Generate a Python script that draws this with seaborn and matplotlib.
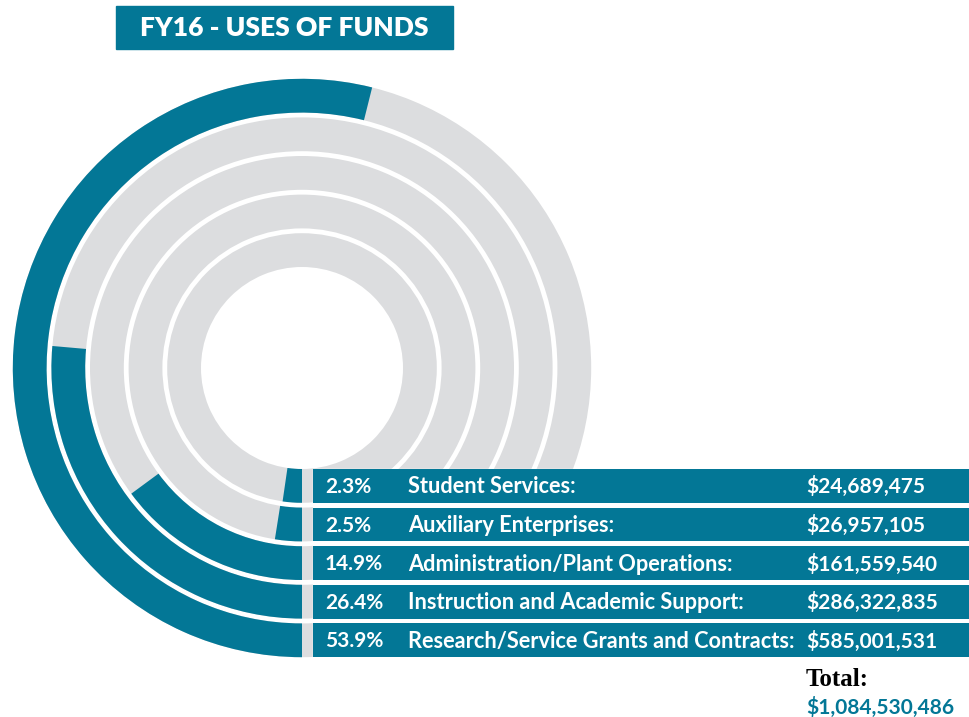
import numpy as np
import matplotlib
matplotlib.use("Agg")
import matplotlib.pyplot as plt
import seaborn as sns
from matplotlib.patches import Rectangle

# data, innermost ring first
categories = [
    "Student Services:",
    "Auxiliary Enterprises:",
    "Administration/Plant Operations:",
    "Instruction and Academic Support:",
    "Research/Service Grants and Contracts:",
]
percents = [2.3, 2.5, 14.9, 26.4, 53.9]
amounts = [24689475, 26957105, 161559540, 286322835, 585001531]
title = "FY16 - USES OF FUNDS"

TEAL = "#037796"
GRAY = "#dcdddf"

sns.set_theme(style="white")
plt.rcParams["font.family"] = ["Lato", "DejaVu Sans"]

W, H = 970, 717
cx, cy = 302, 368          # ring centre in pixels (from top-left)
r_max = 290
r_first = 101              # inner edge of innermost ring
ring_step = 38.6
ring_w = 33.8

fig = plt.figure(figsize=(W / 100, H / 100), dpi=100)
fig.patch.set_facecolor("white")

# polar axes for the rings, 1 radial unit = 1 pixel
ax = fig.add_axes([(cx - r_max) / W, (H - cy - r_max) / H, 2 * r_max / W, 2 * r_max / H],
                  projection="polar")
ax.set_theta_zero_location("S")
ax.set_theta_direction(-1)
ax.set_ylim(0, r_max)
ax.axis("off")

r_mid = np.array([r_first + ring_step * i + ring_w / 2 for i in range(len(percents))])
ax.barh(r_mid, [2 * np.pi] * len(percents), height=ring_w, left=0, color=GRAY, linewidth=0)
ax.barh(r_mid, np.array(percents) / 100 * 2 * np.pi, height=ring_w, left=0,
        color=TEAL, linewidth=0)

# overlay in pixel coordinates for the label table
ov = fig.add_axes([0, 0, 1, 1])
ov.set_xlim(0, W)
ov.set_ylim(H, 0)
ov.axis("off")
ov.patch.set_alpha(0)

box_left = 313
top_y = cy + r_first
ov.add_patch(Rectangle((box_left, top_y), W - box_left, H - top_y, color="white", zorder=1))
ov.barh(cy + r_mid, W - box_left, height=ring_w, left=box_left, color=TEAL,
        linewidth=0, zorder=2)

for p, name, amt, y in zip(percents, categories, amounts, cy + r_mid):
    ov.text(325, y + 1, f"{p}%", color="white", fontsize=15, fontweight="bold",
            ha="left", va="center", zorder=3)
    ov.text(408, y + 1, name, color="white", fontsize=15.7, fontweight="bold",
            ha="left", va="center", zorder=3)
    ov.text(806, y + 1, f"${amt:,}", color="white", fontsize=15, fontweight="bold",
            ha="left", va="center", zorder=3)

ov.text(806, 680, "Total:", color="black", fontsize=18, fontweight="bold",
        family="Liberation Serif", ha="left", va="center")
ov.text(806, 707, f"${sum(amounts):,}", color=TEAL, fontsize=15, fontweight="bold",
        ha="left", va="center")

# title banner
ov.add_patch(Rectangle((116, 6), 337, 43, color=TEAL, zorder=2))
ov.text(284.5, 28.5, title, color="white", fontsize=19, fontweight="heavy",
        ha="center", va="center", zorder=3)

fig.savefig("out.png", dpi=100)
